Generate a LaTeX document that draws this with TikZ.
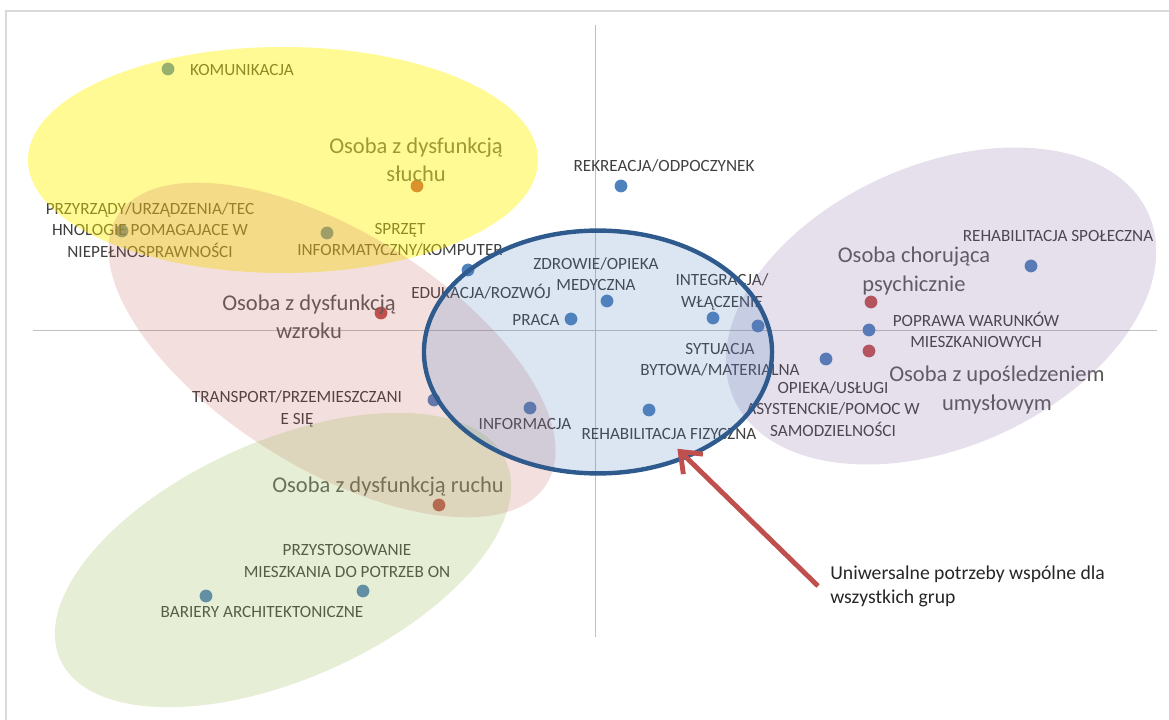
\documentclass[tikz,border=0pt]{standalone}
\usepackage{xcolor}
\usepackage{fontspec}
\setmainfont{Carlito}
\usepackage{tikz}
\usetikzlibrary{arrows.meta, shapes.geometric}

\definecolor{ptblue}{HTML}{4F81BD}
\definecolor{ptred}{HTML}{C0504D}
\definecolor{txtgray}{HTML}{404040}
\definecolor{grpgray}{HTML}{595959}
\definecolor{axisgray}{HTML}{BFBFBF}
\definecolor{framegray}{HTML}{D9D9D9}
\definecolor{movefill}{HTML}{9BBB59}
\definecolor{mindfill}{HTML}{8064A2}
\definecolor{ringblue}{HTML}{2F5A8E}

\tikzset{
  lbl/.style={font=\fontsize{12.2}{15.2}\selectfont, text=txtgray, align=center, inner sep=0pt},
  grp/.style={font=\fontsize{16}{20}\selectfont, text=grpgray, align=center, inner sep=0pt},
}

\begin{document}
\begin{tikzpicture}[x=0.025cm, y=-0.025cm]
\useasboundingbox (0,0) rectangle (1169,720);

% Frame
\draw[framegray, line width=1.4pt] (6,720) -- (6,11) -- (1169,11);

% Axes
\draw[axisgray, line width=0.7pt] (595,25) -- (595,637);
\draw[axisgray, line width=0.7pt] (33,330) -- (1157,330);

% Points
\foreach \px/\py in {168/69, 621/186, 122/231, 327/233, 468/270, 607/301, 571/319,
    713/318, 758/326, 826/359, 869/330, 1031/266, 434/400, 530/408, 649/410,
    363/591, 206/596}
  \fill[ptblue] (\px,\py) circle (0.16cm);
\foreach \px/\py in {417/186, 381/313, 871/302, 869/351, 439/505}
  \fill[ptred] (\px,\py) circle (0.16cm);

% Labels
\node[lbl] (komunikacja) at (242,70) {KOMUNIKACJA};
\node[lbl] (rekreacja) at (664,166) {REKREACJA/ODPOCZYNEK};
\node[lbl] (przyrzady) at (150,230) {PRZYRZĄDY/URZĄDZENIA/TEC\\HNOLOGIE POMAGAJACE W\\NIEPEŁNOSPRAWNOŚCI};
\node[lbl] (sprzet) at (400,240) {SPRZĘT\\INFORMATYCZNY/KOMPUTER};
\node[lbl] (edukacja) at (481,292) {EDUKACJA/ROZWÓJ};
\node[lbl] (zdrowie) at (596,274) {ZDROWIE/OPIEKA\\MEDYCZNA};
\node[lbl] (praca) at (536,320) {PRACA};
\node[lbl] (integracja) at (722,292) {INTEGRACJA/\\WŁĄCZENIE};
\node[lbl] (sytuacja) at (720,360) {SYTUACJA\\BYTOWA/MATERIALNA};
\node[lbl] (opieka) at (833,409) {OPIEKA/USŁUGI\\ASYSTENCKIE/POMOC W\\SAMODZIELNOŚCI};
\node[lbl] (poprawa) at (976,330) {POPRAWA WARUNKÓW\\MIESZKANIOWYCH};
\node[lbl] (rehspol) at (1058,236) {REHABILITACJA SPOŁECZNA};
\node[lbl] (transport) at (297,409) {TRANSPORT/PRZEMIESZCZANI\\E SIĘ};
\node[lbl] (informacja) at (525,424) {INFORMACJA};
\node[lbl] (rehfiz) at (669,434) {REHABILITACJA FIZYCZNA};
\node[lbl] (przystos) at (347,561) {PRZYSTOSOWANIE\\MIESZKANIA DO POTRZEB ON};
\node[lbl] (bariery) at (262,612) {BARIERY ARCHITEKTONICZNE};

% Groups
\node[grp] (sluch) at (416,160) {Osoba z dysfunkcją\\słuchu};
\node[grp] (wzrok) at (309,317) {Osoba z dysfunkcją\\wzroku};
\node[grp] (psych) at (914,271) {Osoba chorująca\\psychicznie};
\node[grp] (umysl) at (997,390) {Osoba z upośledzeniem\\umysłowym};
\node[grp] (ruch) at (388,487) {Osoba z dysfunkcją ruchu};

% Ellipses
\fill[yellow, opacity=0.42] (283,160) ellipse [x radius=255, y radius=113];
\fill[ptred, opacity=0.18, rotate around={-32:(332,350)}] (332,350) ellipse [x radius=253, y radius=118];
\fill[movefill, opacity=0.25, rotate around={24:(283,560)}] (283,560) ellipse [x radius=244, y radius=119];
\fill[mindfill, opacity=0.2, rotate around={24:(941,306)}] (941,306) ellipse [x radius=227, y radius=141];
\node[ellipse, draw=ringblue, line width=0.11cm, fill=ptblue, fill opacity=0.2,
  minimum width=8.7cm, minimum height=6.07cm, inner sep=0pt] (univ) at (598,352) {};

% Note
\node[anchor=west, font=\fontsize{14}{17}\selectfont, text=black!85, align=left,
  inner xsep=0.3cm, inner ysep=0pt] (note) at (818,586)
  {Uniwersalne potrzeby wspólne dla\\wszystkich grup};
\draw[ptred, line width=3.5pt, shorten >=-0.35cm,
  -{Straight Barb[length=0.45cm, width=0.7cm]}] (note.west) -- (univ.-50);

\end{tikzpicture}
\end{document}
